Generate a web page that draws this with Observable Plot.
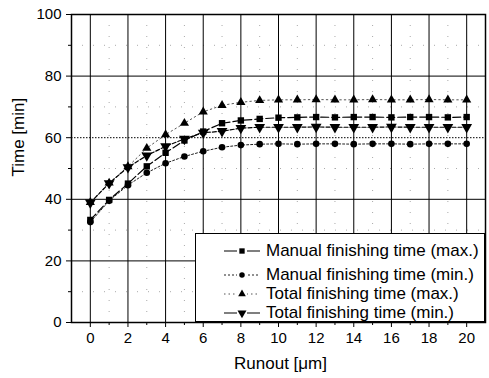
<!DOCTYPE html>
<html><head><meta charset="utf-8">
<script src="https://cdn.jsdelivr.net/npm/d3@7"></script>
<script src="https://cdn.jsdelivr.net/npm/@observablehq/plot@0.6"></script>
<style>
body{margin:0;background:#fff;font-family:Arial,"Liberation Sans",sans-serif;}
#wrap{position:relative;width:489px;height:378px;}
#legend{position:absolute;left:195px;top:233px;width:290px;height:89px;background:#fff;border:1px solid #000;box-sizing:border-box;}
.row{position:absolute;left:27px;height:18px;display:flex;align-items:center;font-size:17px;color:#000;white-space:nowrap;}
.row svg{margin-right:5px;}
</style></head><body>
<div id="wrap"></div>
<script>
const runout = [0,1,2,3,4,5,6,7,8,9,10,11,12,13,14,15,16,17,18,19,20];
const manualMax = [33.3,39.8,45.1,50.7,55.1,59.1,62.0,64.7,65.6,66.1,66.5,66.6,66.7,66.6,66.7,66.7,66.6,66.7,66.7,66.6,66.7];
const manualMin = [32.6,39.5,44.6,48.6,51.7,53.9,55.6,56.9,57.6,57.9,58.0,57.9,58.0,58.0,57.9,58.0,58.0,57.9,58.0,58.0,58.0];
const totalMax  = [39.0,45.3,50.6,56.6,61.0,64.7,68.4,70.5,71.5,72.1,72.3,72.3,72.4,72.3,72.3,72.4,72.3,72.3,72.4,72.3,72.3];
const totalMin  = [38.9,45.2,50.4,54.2,57.2,59.6,61.6,62.1,63.1,63.4,63.4,63.4,63.5,63.4,63.4,63.4,63.5,63.4,63.4,63.4,63.4];
const seriesNames = ["Manual finishing time (max.)","Manual finishing time (min.)","Total finishing time (max.)","Total finishing time (min.)"];
const xTicks = [0,2,4,6,8,10,12,14,16,18,20];
const xMinor = [1,3,5,7,9,11,13,15,17,19];
const yTicks = [0,20,40,60,80,100];
const yMinor = [10,30,50,70,90];

const styles = [
  {values: manualMax, symbol: "square", r: 3.6, rotate: 0, dash: "8,3", sw: 1.2, stroke: "#000"},
  {values: manualMin, symbol: "circle", r: 3.3, rotate: 0, dash: "2,2", sw: 1, stroke: "#222"},
  {values: totalMax, symbol: "triangle", r: 3.4, rotate: 0, dash: "1.5,3", sw: 1, stroke: "#555"},
  {values: totalMin, symbol: "triangle", r: 4.0, rotate: 180, dash: "4,2", sw: 1.2, stroke: "#000"}
];

const marks = [
  Plot.ruleX(xMinor, {stroke: "#aaa", strokeDasharray: "1,10", strokeWidth: 1}),
  Plot.ruleY(yMinor, {stroke: "#aaa", strokeDasharray: "1,10", strokeWidth: 1}),
  Plot.ruleX(xTicks, {stroke: "#000", strokeWidth: 1}),
  Plot.ruleY([20,40,80], {stroke: "#000", strokeWidth: 1}),
  Plot.ruleY([60], {stroke: "#000", strokeWidth: 1, strokeDasharray: "1.5,1.5"}),
];
styles.forEach((s) => {
  const data = runout.map((x, i) => ({x, y: s.values[i]}));
  marks.push(Plot.line(data, {x: "x", y: "y", stroke: s.stroke, strokeWidth: s.sw, strokeDasharray: s.dash}));
  marks.push(Plot.dot(data, {x: "x", y: "y", symbol: s.symbol, r: s.r, fill: "#000", stroke: "none", rotate: s.rotate}));
});
marks.push(
  Plot.frame({stroke: "#000", strokeWidth: 1.5}),
  Plot.axisY({ticks: yTicks, tickSize: 5, tickPadding: 5, label: null, fontSize: 15}),
  Plot.axisY({ticks: yMinor, tickSize: 3, tickFormat: () => "", label: null}),
  Plot.axisX({ticks: xTicks, tickSize: 5, tickPadding: 5, label: null, fontSize: 15}),
  Plot.axisX({ticks: xMinor, tickSize: 3, tickFormat: () => "", label: null}),
  Plot.text(["Runout [μm]"], {frameAnchor: "bottom", dy: 46, dx: 2, fontSize: 17}),
  Plot.text(["Time [min]"], {frameAnchor: "left", dx: -53, dy: 8, rotate: -90, fontSize: 17})
);

const chart = Plot.plot({
  width: 489, height: 378,
  marginLeft: 71, marginRight: 4, marginTop: 14, marginBottom: 56,
  x: {domain: [-1, 21]},
  y: {domain: [0, 100]},
  style: {fontFamily: 'Arial, "Liberation Sans", sans-serif', color: "#000", background: "#fff"},
  marks
});
const wrap = document.getElementById("wrap");
wrap.appendChild(chart);

// Legend
const legend = document.createElement("div");
legend.id = "legend";
const rowCenters = [17, 41, 60, 79];
styles.forEach((s, i) => {
  const row = document.createElement("div");
  row.className = "row";
  row.style.top = (rowCenters[i] - 9) + "px";
  const sym = d3.symbol(s.symbol === "square" ? d3.symbolSquare : s.symbol === "circle" ? d3.symbolCircle : d3.symbolTriangle, Math.PI * s.r * s.r * 0.7)();
  row.innerHTML = `<svg width="38" height="18"><line x1="1" x2="37" y1="9" y2="9" stroke="${s.stroke}" stroke-width="${s.sw}" stroke-dasharray="${i===0||i===3?'none':s.dash}"/><rect x="14" y="3" width="10" height="12" fill="#fff"/><path d="${sym}" transform="translate(19,9) rotate(${s.rotate})" fill="#000"/></svg><span>${seriesNames[i]}</span>`;
  legend.appendChild(row);
});
wrap.appendChild(legend);
</script>
</body></html>
